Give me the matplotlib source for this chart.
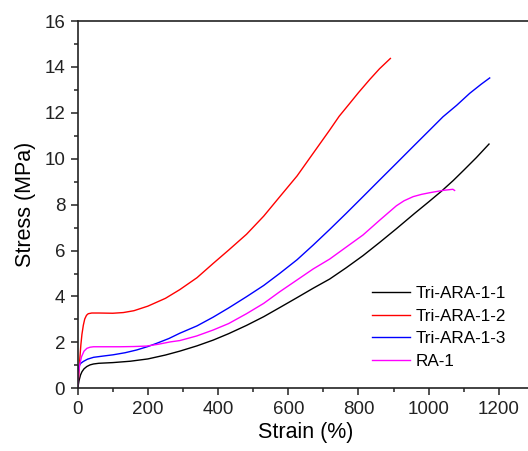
import numpy as np
import matplotlib
matplotlib.use('Agg')
import matplotlib.pyplot as plt
from matplotlib.ticker import MultipleLocator

# strain (%) / stress (MPa)
tri1_x = [0, 4, 8, 12, 18, 26, 35, 45, 60, 100, 150, 200, 250, 291, 340, 386, 430, 481, 530, 576,
          625, 671, 718, 765, 813, 860, 908, 960, 1000, 1036, 1070, 1100, 1136, 1172]
tri1_y = [0, 0.35, 0.58, 0.72, 0.85, 0.95, 1.02, 1.06, 1.09, 1.12, 1.18, 1.28, 1.45, 1.62, 1.85, 2.10,
          2.38, 2.74, 3.12, 3.52, 3.95, 4.36, 4.76, 5.25, 5.78, 6.35, 6.95, 7.62, 8.12, 8.58, 9.05, 9.50,
          10.05, 10.64]

tri2_x = [0, 3, 6, 9, 12, 16, 20, 25, 30, 40, 60, 100, 130, 160, 200, 250, 291, 340, 386, 430, 481,
          530, 576, 625, 671, 718, 745, 775, 800, 832, 860, 891]
tri2_y = [0, 0.6, 1.3, 1.9, 2.35, 2.75, 3.02, 3.18, 3.25, 3.28, 3.28, 3.27, 3.30, 3.38, 3.58, 3.92,
          4.30, 4.82, 5.44, 6.02, 6.71, 7.50, 8.35, 9.25, 10.24, 11.25, 11.85, 12.41, 12.88, 13.45, 13.92, 14.37]

tri3_x = [0, 1, 3, 8, 16, 28, 45, 75, 101, 135, 168, 200, 225, 260, 291, 340, 386, 430, 481, 530,
          576, 625, 671, 718, 765, 813, 860, 908, 955, 1003, 1041, 1080, 1117, 1150, 1174]
tri3_y = [0, 0.6, 0.95, 1.08, 1.17, 1.27, 1.35, 1.41, 1.46, 1.55, 1.67, 1.82, 1.96, 2.17, 2.40, 2.72,
          3.10, 3.50, 3.99, 4.48, 5.01, 5.60, 6.24, 6.92, 7.62, 8.35, 9.07, 9.80, 10.52, 11.25, 11.83,
          12.33, 12.85, 13.25, 13.52]

ra_x = [0, 3, 6, 11, 18, 26, 35, 45, 80, 120, 160, 196, 230, 263, 291, 339, 386, 430, 481, 530, 576,
        625, 671, 718, 765, 813, 861, 908, 930, 956, 980, 1003, 1040, 1069, 1074]
ra_y = [0, 0.7, 1.05, 1.38, 1.62, 1.74, 1.79, 1.81, 1.81, 1.81, 1.82, 1.84, 1.92, 2.02, 2.08, 2.28,
        2.54, 2.82, 3.25, 3.70, 4.21, 4.72, 5.20, 5.63, 6.15, 6.68, 7.33, 7.95, 8.17, 8.35, 8.45, 8.52,
        8.62, 8.67, 8.62]

labels = ['Tri-ARA-1-1', 'Tri-ARA-1-2', 'Tri-ARA-1-3', 'RA-1']
colors = ['black', 'red', 'blue', '#ff00ff']

plt.rcParams['font.family'] = ['Liberation Sans', 'DejaVu Sans']

fig = plt.figure(figsize=(5.28, 4.51), dpi=100)
ax = fig.add_axes([0.1472, 0.139, 0.864, 0.8144])

series = [(tri1_x, tri1_y), (tri2_x, tri2_y), (tri3_x, tri3_y), (ra_x, ra_y)]
for (x, y), lab, c in zip(series, labels, colors):
    ax.plot(x, y, color=c, lw=1.0, label=lab)

ax.set_xlim(0, 1300)
ax.set_ylim(0, 16)
ax.xaxis.set_major_locator(MultipleLocator(200))
ax.xaxis.set_minor_locator(MultipleLocator(100))
ax.yaxis.set_major_locator(MultipleLocator(2))
ax.yaxis.set_minor_locator(MultipleLocator(1))
ax.tick_params(which='major', direction='out', length=5, width=1.1, labelsize=13.5, pad=4,
               colors='#222222', top=False, right=False)
ax.tick_params(which='minor', direction='out', length=3, width=1.1,
               colors='#222222', top=False, right=False)
for s in ax.spines.values():
    s.set_linewidth(1.2)
    s.set_color('#222222')

ax.set_xlabel('Strain (%)', fontsize=15.5, labelpad=3)
ax.set_ylabel('Stress (MPa)', fontsize=15.5, labelpad=6)

ax.legend(loc='center left', bbox_to_anchor=(0.691, 0.274), bbox_transform=fig.transFigure,
          borderaxespad=0, frameon=False, fontsize=12.3,
          handlelength=2.24, handletextpad=0.35, labelspacing=0.45)

fig.savefig('out.png', dpi=100)
